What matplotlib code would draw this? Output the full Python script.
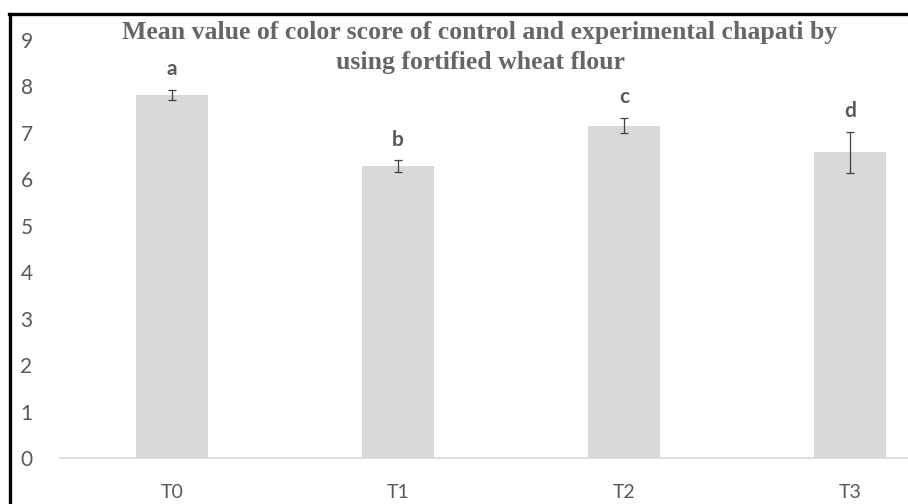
import matplotlib
matplotlib.use("Agg")
import matplotlib.pyplot as plt
from matplotlib.lines import Line2D

# data
treatments = ["T0", "T1", "T2", "T3"]
mean_color = [7.80, 6.28, 7.15, 6.58]
sd_color = [0.11, 0.12, 0.16, 0.44]
letters = ["a", "b", "c", "d"]
y_ticks = [0, 1, 2, 3, 4, 5, 6, 7, 8, 9]

title_lines = ["Mean value of color score of control and experimental chapati by",
               "using fortified wheat flour"]

grey_txt = "#595959"

fig = plt.figure(figsize=(9.08, 5.04), dpi=100)
# plot area runs past the right edge, as in the cropped reference
ax = fig.add_axes([59 / 908, 46 / 504, 904 / 908, 0.8303])

x = list(range(len(treatments)))
ax.bar(x, mean_color, width=0.315, color="#d9d9d9", zorder=2)
ax.errorbar(x, mean_color, yerr=sd_color, fmt="none", ecolor="#404040",
            elinewidth=0.9, capsize=3, capthick=0.9, zorder=3)

for xi, m, s, lab in zip(x, mean_color, sd_color, letters):
    ax.annotate(lab, (xi, m + s), xytext=(0, 15), textcoords="offset points",
                ha="center", va="center", fontsize=15, fontweight="bold",
                color=grey_txt, family="Lato")

ax.set_xlim(-0.5, 3.5)
ax.set_ylim(0, 9)
ax.set_xticks(x)
ax.set_xticklabels(treatments)
ax.set_yticks(y_ticks)

for s in ["top", "right", "left"]:
    ax.spines[s].set_visible(False)
ax.spines["bottom"].set_color("#d9d9d9")
ax.spines["bottom"].set_linewidth(1.2)
ax.tick_params(axis="both", length=0, labelcolor=grey_txt)
ax.tick_params(axis="y", pad=19, labelsize=15)
ax.tick_params(axis="x", pad=19, labelsize=14)
for t in ax.get_xticklabels() + ax.get_yticklabels():
    t.set_family("Lato")

# two-line title, one text per line
for i, line in enumerate(title_lines):
    fig.text(480 / 908, 1 - (32 + 30 * i) / 504, line, ha="center", va="center",
             fontsize=18.5, fontweight="bold", family="Liberation Serif",
             color="#666666")

# black frame on the top and left edges of the cropped image
fig.add_artist(Line2D([10 / 908, 10 / 908], [0, 1 - 14 / 504],
                      color="black", lw=2.4, transform=fig.transFigure))
fig.add_artist(Line2D([9 / 908, 1], [1 - 14 / 504, 1 - 14 / 504],
                      color="black", lw=2.4, transform=fig.transFigure))

fig.savefig("out.png", dpi=100)
